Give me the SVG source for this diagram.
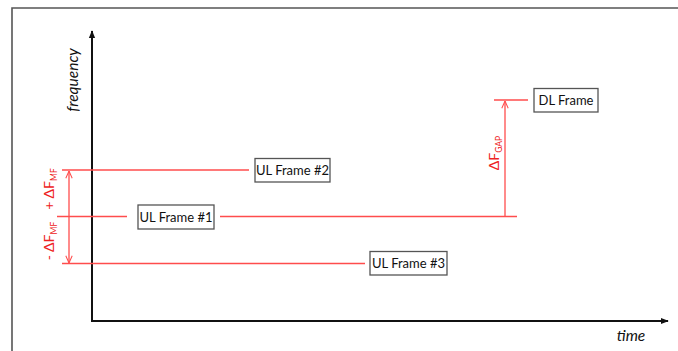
<svg xmlns="http://www.w3.org/2000/svg" width="678" height="351" viewBox="0 0 678 351">
<defs>
<style>
.axis{stroke:#111;stroke-width:2;fill:none}
.red{stroke:#ff4d4d;stroke-width:1.3;fill:none}
.box{fill:#fff;stroke:#555;stroke-width:1.3}
.lbl{font-family:Lato,"Liberation Sans",sans-serif;font-size:13px;fill:#111;text-anchor:middle}
.ax{font-family:Lato,"Liberation Sans",sans-serif;font-size:15.5px;font-style:italic;fill:#111}
.rt{font-family:Lato,"Liberation Sans",sans-serif;font-size:14px;fill:#ee2222}
.sub{font-size:8.5px}
</style>
<marker id="ah" viewBox="0 0 10 10" refX="9" refY="5" markerWidth="8" markerHeight="8" orient="auto" markerUnits="userSpaceOnUse">
<path d="M0,1 L10,5 L0,9 Z" fill="#111"/>
</marker>
<marker id="ra" viewBox="0 0 10 10" refX="10" refY="5" markerWidth="8" markerHeight="8" orient="auto" markerUnits="userSpaceOnUse">
<path d="M1,1 L10,5 L1,9" fill="none" stroke="#ff4d4d" stroke-width="1.3"/>
</marker>
</defs>
<rect x="0" y="0" width="678" height="351" fill="#fff"/>
<path d="M12,360 V8 H690" fill="none" stroke="#555" stroke-width="1.6"/>
<g id="axes">
<line class="axis" x1="92" y1="321" x2="92" y2="31" marker-end="url(#ah)"/>
<line class="axis" x1="91" y1="321" x2="668" y2="321" marker-end="url(#ah)"/>
<text class="ax" transform="translate(78,80) rotate(-90)" text-anchor="middle">frequency</text>
<text class="ax" x="631" y="341" text-anchor="middle">time</text>
</g>
<g id="connectors">
<line class="red" x1="62" y1="170" x2="249" y2="170"/>
<line class="red" x1="57" y1="216.5" x2="127" y2="216.5"/>
<line class="red" x1="220" y1="216.5" x2="517" y2="216.5"/>
<line class="red" x1="62" y1="263.5" x2="365" y2="263.5"/>
<line class="red" x1="494" y1="100" x2="528" y2="100"/>
<line class="red" x1="69" y1="216" x2="69" y2="171" marker-end="url(#ra)"/>
<line class="red" x1="69" y1="216" x2="69" y2="263" marker-end="url(#ra)"/>
<line class="red" x1="505" y1="216.5" x2="505" y2="101" marker-end="url(#ra)"/>
</g>
<g id="labels">
<text class="rt" transform="translate(54,189) rotate(-90)" text-anchor="middle">+ ΔF<tspan class="sub" dy="3">MF</tspan></text>
<text class="rt" transform="translate(54,241) rotate(-90)" text-anchor="middle">- ΔF<tspan class="sub" dy="3">MF</tspan></text>
<text class="rt" transform="translate(499,153) rotate(-90)" text-anchor="middle">ΔF<tspan class="sub" dy="3">GAP</tspan></text>
</g>
<g id="ul2">
<rect class="box" x="255" y="158.5" width="75" height="23.5"/>
<text class="lbl" x="292.5" y="174.5">UL Frame #2</text>
</g>
<g id="ul1">
<rect class="box" x="138" y="205" width="76" height="24"/>
<text class="lbl" x="176" y="221.5">UL Frame #1</text>
</g>
<g id="ul3">
<rect class="box" x="370" y="251.5" width="77" height="23.5"/>
<text class="lbl" x="408.5" y="268">UL Frame #3</text>
</g>
<g id="dl">
<rect class="box" x="534" y="88.5" width="64" height="23.5"/>
<text class="lbl" x="566" y="105">DL Frame</text>
</g>
</svg>
